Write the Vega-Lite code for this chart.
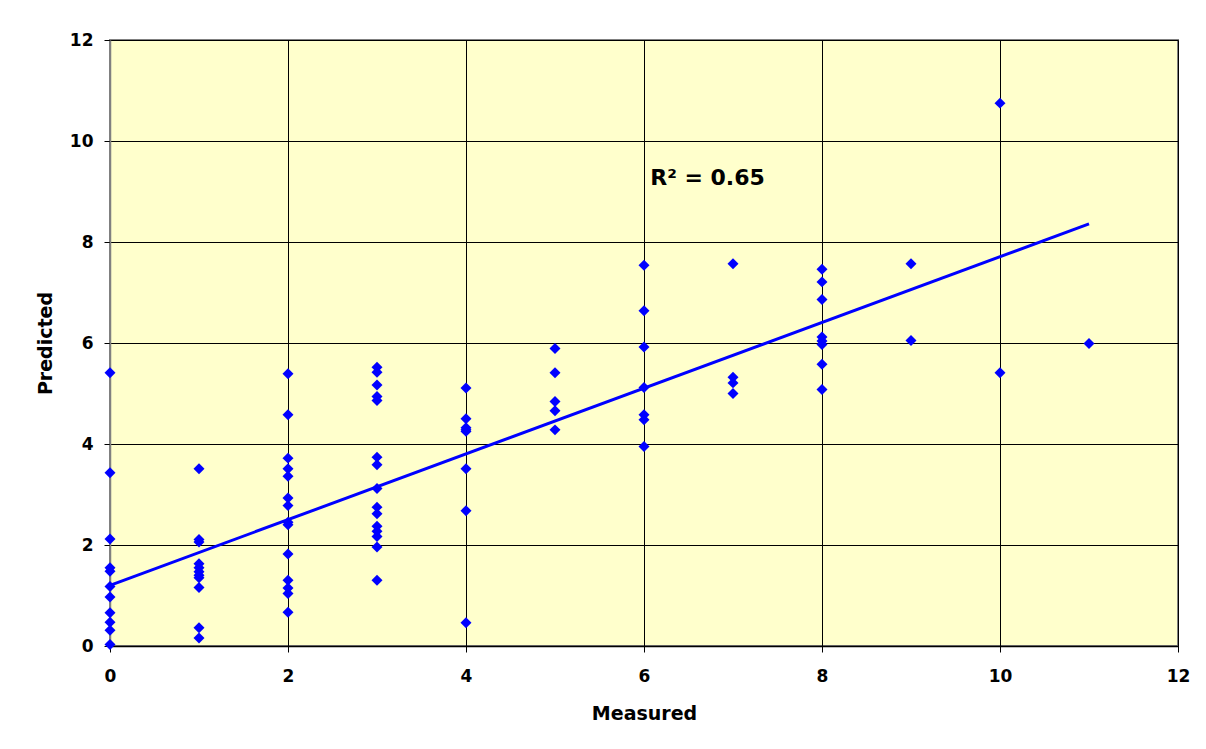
{
  "$schema": "https://vega.github.io/schema/vega-lite/v6.json",
  "autosize": {"type": "none"},
  "width": 1068,
  "height": 606,
  "padding": {"left": 110, "top": 40, "right": 28, "bottom": 103},
  "background": "white",
  "config": {
    "font": "DejaVu Sans",
    "view": {"fill": "#FFFFCC", "stroke": "#808080", "strokeWidth": 2},
    "axis": {
      "grid": true,
      "gridColor": "#000000",
      "gridOpacity": 1,
      "gridWidth": 1,
      "tickColor": "#000000",
      "tickSize": 6,
      "labelFlush": false,
      "labelFont": "DejaVu Sans",
      "labelFontWeight": "bold",
      "labelFontSize": 17,
      "labelColor": "#000000",
      "titleFont": "DejaVu Sans",
      "titleFontWeight": "bold",
      "titleFontSize": 19,
      "titleColor": "#000000"
    }
  },
  "datasets": {
    "points": [
      {"Measured": 0, "Predicted": 5.41}, {"Measured": 0, "Predicted": 3.43}, {"Measured": 0, "Predicted": 2.12},
      {"Measured": 0, "Predicted": 1.55}, {"Measured": 0, "Predicted": 1.48}, {"Measured": 0, "Predicted": 1.18},
      {"Measured": 0, "Predicted": 0.97}, {"Measured": 0, "Predicted": 0.66}, {"Measured": 0, "Predicted": 0.47},
      {"Measured": 0, "Predicted": 0.31}, {"Measured": 0, "Predicted": 0.03},
      {"Measured": 1, "Predicted": 3.51}, {"Measured": 1, "Predicted": 2.11}, {"Measured": 1, "Predicted": 2.06},
      {"Measured": 1, "Predicted": 1.63}, {"Measured": 1, "Predicted": 1.55}, {"Measured": 1, "Predicted": 1.47},
      {"Measured": 1, "Predicted": 1.40}, {"Measured": 1, "Predicted": 1.35}, {"Measured": 1, "Predicted": 1.16},
      {"Measured": 1, "Predicted": 0.36}, {"Measured": 1, "Predicted": 0.16},
      {"Measured": 2, "Predicted": 5.39}, {"Measured": 2, "Predicted": 4.58}, {"Measured": 2, "Predicted": 3.72},
      {"Measured": 2, "Predicted": 3.51}, {"Measured": 2, "Predicted": 3.36}, {"Measured": 2, "Predicted": 2.93},
      {"Measured": 2, "Predicted": 2.78}, {"Measured": 2, "Predicted": 2.45}, {"Measured": 2, "Predicted": 2.40},
      {"Measured": 2, "Predicted": 1.82}, {"Measured": 2, "Predicted": 1.30}, {"Measured": 2, "Predicted": 1.15},
      {"Measured": 2, "Predicted": 1.04}, {"Measured": 2, "Predicted": 0.67},
      {"Measured": 3, "Predicted": 5.52}, {"Measured": 3, "Predicted": 5.42}, {"Measured": 3, "Predicted": 5.17},
      {"Measured": 3, "Predicted": 4.94}, {"Measured": 3, "Predicted": 4.86}, {"Measured": 3, "Predicted": 3.74},
      {"Measured": 3, "Predicted": 3.59}, {"Measured": 3, "Predicted": 3.12}, {"Measured": 3, "Predicted": 2.75},
      {"Measured": 3, "Predicted": 2.62}, {"Measured": 3, "Predicted": 2.37}, {"Measured": 3, "Predicted": 2.27},
      {"Measured": 3, "Predicted": 2.17}, {"Measured": 3, "Predicted": 1.96}, {"Measured": 3, "Predicted": 1.30},
      {"Measured": 4, "Predicted": 5.11}, {"Measured": 4, "Predicted": 4.50}, {"Measured": 4, "Predicted": 4.32},
      {"Measured": 4, "Predicted": 4.28}, {"Measured": 4, "Predicted": 4.25}, {"Measured": 4, "Predicted": 3.51},
      {"Measured": 4, "Predicted": 2.68}, {"Measured": 4, "Predicted": 0.46},
      {"Measured": 5, "Predicted": 5.89}, {"Measured": 5, "Predicted": 5.41}, {"Measured": 5, "Predicted": 4.84},
      {"Measured": 5, "Predicted": 4.66}, {"Measured": 5, "Predicted": 4.28},
      {"Measured": 6, "Predicted": 7.54}, {"Measured": 6, "Predicted": 6.64}, {"Measured": 6, "Predicted": 5.92},
      {"Measured": 6, "Predicted": 5.12}, {"Measured": 6, "Predicted": 4.58}, {"Measured": 6, "Predicted": 4.48},
      {"Measured": 6, "Predicted": 3.95},
      {"Measured": 7, "Predicted": 7.57}, {"Measured": 7, "Predicted": 5.32}, {"Measured": 7, "Predicted": 5.21},
      {"Measured": 7, "Predicted": 5.00},
      {"Measured": 8, "Predicted": 7.46}, {"Measured": 8, "Predicted": 7.21}, {"Measured": 8, "Predicted": 6.86},
      {"Measured": 8, "Predicted": 6.12}, {"Measured": 8, "Predicted": 6.04}, {"Measured": 8, "Predicted": 5.97},
      {"Measured": 8, "Predicted": 5.58}, {"Measured": 8, "Predicted": 5.08},
      {"Measured": 9, "Predicted": 7.57}, {"Measured": 9, "Predicted": 6.05},
      {"Measured": 10, "Predicted": 10.75}, {"Measured": 10, "Predicted": 5.41},
      {"Measured": 11, "Predicted": 5.99}
    ],
    "trend": [
      {"Measured": 0, "Predicted": 1.20},
      {"Measured": 11, "Predicted": 8.36}
    ],
    "label": [
      {"Measured": 6.07, "Predicted": 9.13, "text": "R² = 0.65"}
    ]
  },
  "encoding": {
    "x": {
      "field": "Measured", "type": "quantitative",
      "scale": {"domain": [0, 12], "nice": false, "zero": true},
      "axis": {"title": "Measured", "values": [0, 2, 4, 6, 8, 10, 12], "labelPadding": 16, "titlePadding": 20, "domainColor": "#000000", "domainWidth": 1.5}
    },
    "y": {
      "field": "Predicted", "type": "quantitative",
      "scale": {"domain": [0, 12], "nice": false, "zero": true},
      "axis": {"title": "Predicted", "values": [0, 2, 4, 6, 8, 10, 12], "labelPadding": 11, "titlePadding": 14, "domainColor": "#808080", "domainWidth": 1.5}
    }
  },
  "layer": [
    {
      "data": {"name": "trend"},
      "mark": {"type": "line", "color": "#0000FF", "strokeWidth": 3},
      "encoding": {}
    },
    {
      "data": {"name": "points"},
      "mark": {"type": "point", "shape": "diamond", "filled": true, "color": "#0000FF", "opacity": 1, "size": 120, "strokeWidth": 0},
      "encoding": {}
    },
    {
      "data": {"name": "label"},
      "mark": {"type": "text", "align": "left", "baseline": "alphabetic", "fontSize": 22, "fontWeight": "bold", "color": "#000000", "font": "DejaVu Sans"},
      "encoding": {"text": {"field": "text"}}
    }
  ]
}
